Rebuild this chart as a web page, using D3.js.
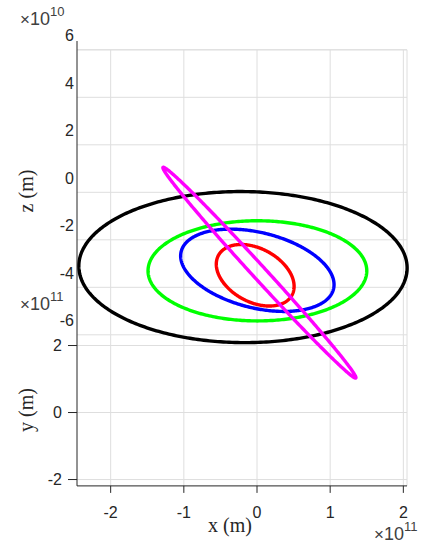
<!DOCTYPE html>
<html>
<head>
<meta charset="utf-8">
<script src="https://cdn.jsdelivr.net/npm/d3@7"></script>
<style>
  html, body { margin: 0; padding: 0; background: #ffffff; }
  svg { display: block; }
</style>
</head>
<body>
<svg id="chart" width="421" height="544"></svg>
<script>
// ---------- data (lengths in 1e11 m for x,y ; z axis in 1e10 m) ----------
const orbitNames    = ["Mars", "Earth", "Venus", "Mercury", "Object"];
const orbitColors   = ["#000000", "#00ff00", "#0000ff", "#ff0000", "#ff00ff"];
const semiMajor     = [2.245, 1.495, 1.05, 0.545, 1.39];    // 1e11 m
const eccentricity  = [0.0934, 0.0167, 0.0068, 0.2056, 0.025];
const inclination   = [0.1, 0.0, 3.39, 7.0, 20.7];          // deg
const ascendingNode = [49.56, -11.26, 76.68, 48.33, 117.0]; // deg
const argPerihelion = [286.5, 114.2, 54.88, 29.12, 64.0];   // deg

const xTicks = [-2, -1, 0, 1, 2];   // x 1e11
const yTicks = [-2, 0, 2];          // y 1e11
const zTicks = [-6, -4, -2, 0, 2, 4, 6]; // z 1e10

const xDomain = [-2.46, 2.05];
const yDomain = [-2.19, 2.32];
const zDomain = [-6, 6];

// ---------- scales / oblique projection ----------
const xScale = d3.scaleLinear().domain(xDomain).range([77, 407]);
const yScale = d3.scaleLinear().domain(yDomain).range([343.4, 192.3]);
const zShift = d3.scaleLinear().domain(zDomain).range([142.5, -142.5]);
function proj(x, y, z) { return [xScale(x), yScale(y) + zShift(z)]; }

const svg = d3.select("#chart");
const gridColor = "#dedede";
const axisColor = "#262626";

const [x0, x1] = xDomain, [y0, y1] = yDomain, [z0, z1] = zDomain;
const grid = svg.append("g").attr("stroke", gridColor).attr("stroke-width", 1).attr("fill", "none");

function seg(a, b, g, color) {
  g.append("line").attr("x1", a[0]).attr("y1", a[1]).attr("x2", b[0]).attr("y2", b[1])
    .attr("stroke", color || null);
}
// back wall (y = max): z grid lines and x grid lines
zTicks.forEach(z => seg(proj(x0, y1, z), proj(x1, y1, z), grid));
xTicks.forEach(x => seg(proj(x, y1, z1), proj(x, y1, z0), grid));
// floor (z = min): y grid lines and x grid lines
yTicks.forEach(y => seg(proj(x0, y, z0), proj(x1, y, z0), grid));
xTicks.forEach(x => seg(proj(x, y1, z0), proj(x, y0, z0), grid));
// box edges
seg(proj(x0, y1, z1), proj(x1, y1, z1), grid);
seg(proj(x1, y1, z1), proj(x1, y0, z0), grid);

// ---------- orbits ----------
const deg = Math.PI / 180;
const anomalies = d3.range(0, 361, 1).map(d => d * deg);
function orbitPoints(k) {
  const a = semiMajor[k], e = eccentricity[k];
  const b = a * Math.sqrt(1 - e * e);
  const i = inclination[k] * deg, O = ascendingNode[k] * deg, w = argPerihelion[k] * deg;
  const cO = Math.cos(O), sO = Math.sin(O), cw = Math.cos(w), sw = Math.sin(w), ci = Math.cos(i), si = Math.sin(i);
  return anomalies.map(E => {
    const xp = a * (Math.cos(E) - e), yp = b * Math.sin(E);
    const x = xp * (cw * cO - sw * sO * ci) - yp * (sw * cO + cw * sO * ci);
    const y = xp * (cw * sO + sw * cO * ci) + yp * (cw * cO * ci - sw * sO);
    const z = (xp * sw * si + yp * cw * si) * 10; // to 1e10 units
    return proj(x, y, z);
  });
}
const line = d3.line().curve(d3.curveLinearClosed);
svg.append("g").selectAll("path").data(orbitNames).join("path")
  .attr("d", (d, k) => line(orbitPoints(k)))
  .attr("fill", "none")
  .attr("stroke", (d, k) => orbitColors[k])
  .attr("stroke-width", 3.4)
  .attr("stroke-linejoin", "round");

// ---------- axes ----------
const ax = svg.append("g").attr("stroke", axisColor).attr("stroke-width", 1);
const front = proj(x0, y0, z0);
seg([front[0], front[1]], [front[0], 41], ax);
seg(front, proj(x1, y0, z0), ax);
xTicks.forEach(x => { const p = proj(x, y0, z0); seg(p, [p[0], p[1] + 7], ax); });
yTicks.forEach(y => { const p = proj(x0, y, z0); seg([p[0] - 9, p[1]], p, ax); });

const font = "'Liberation Sans', Arial, Helvetica, sans-serif";
const txt = svg.append("g").attr("fill", axisColor).attr("font-family", font).attr("font-size", 16);
xTicks.forEach(x => {
  txt.append("text").attr("x", proj(x, y0, z0)[0]).attr("y", 518).attr("text-anchor", "middle").text(x);
});
yTicks.forEach(y => {
  txt.append("text").attr("x", 62).attr("y", proj(x0, y, z0)[1]).attr("dy", "0.35em")
    .attr("text-anchor", "end").text(y);
});
zTicks.forEach(z => {
  txt.append("text").attr("x", 74).attr("y", proj(x0, y1, z)[1] - 14).attr("dy", "0.35em")
    .attr("text-anchor", "end").text(z);
});

// exponent multipliers
function multiplier(x, y, exp) {
  const t = svg.append("text").attr("x", x).attr("y", y).attr("fill", "#404040").attr("font-family", font);
  t.append("tspan").attr("font-size", 17).text("\u00d7");
  t.append("tspan").attr("font-size", 18).text("10");
  t.append("tspan").attr("font-size", 13).attr("dy", -9).text(exp);
}
multiplier(20, 25, "10");
multiplier(20, 310, "11");
multiplier(374, 540, "11");

// axis labels (serif, LaTeX-like)
const serif = "'Liberation Serif', 'Times New Roman', serif";
svg.append("text").attr("x", 230).attr("y", 532).attr("text-anchor", "middle")
  .attr("font-family", serif).attr("font-size", 20).attr("fill", axisColor).text("x (m)");
svg.append("text").attr("transform", "translate(33,410) rotate(-90)").attr("text-anchor", "middle")
  .attr("font-family", serif).attr("font-size", 20).attr("fill", axisColor).text("y (m)");
svg.append("text").attr("transform", "translate(33,191) rotate(-90)").attr("text-anchor", "middle")
  .attr("font-family", serif).attr("font-size", 20).attr("fill", axisColor).text("z (m)");
</script>
</body>
</html>
